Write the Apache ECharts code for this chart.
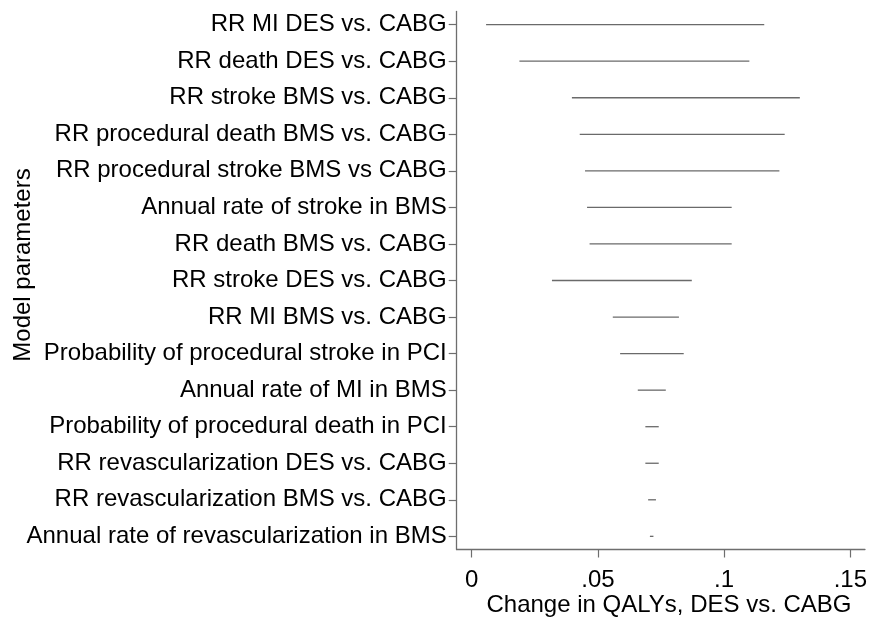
<!DOCTYPE html>
<html>
<head>
<meta charset="utf-8">
<script src="https://cdn.jsdelivr.net/npm/echarts@6/dist/echarts.min.js"></script>
<style>
html,body{margin:0;padding:0;background:#fff;}
#chart{width:870px;height:620px;}
</style>
</head>
<body>
<div id="chart"></div>
<script>
const categories = [
  "RR MI DES vs. CABG",
  "RR death DES vs. CABG",
  "RR stroke BMS vs. CABG",
  "RR procedural death BMS vs. CABG",
  "RR procedural stroke BMS vs CABG",
  "Annual rate of stroke in BMS",
  "RR death BMS vs. CABG",
  "RR stroke DES vs. CABG",
  "RR MI BMS vs. CABG",
  "Probability of procedural stroke in PCI",
  "Annual rate of MI in BMS",
  "Probability of procedural death in PCI",
  "RR revascularization DES vs. CABG",
  "RR revascularization BMS vs. CABG",
  "Annual rate of revascularization in BMS"
];
const lowValues  = [0.0057, 0.0189, 0.0397, 0.0428, 0.0449, 0.0457, 0.0467, 0.0318, 0.0559, 0.0588, 0.0658, 0.0688, 0.0688, 0.0699, 0.0706];
const highValues = [0.1159, 0.1100, 0.1300, 0.1240, 0.1219, 0.1030, 0.1030, 0.0872, 0.0821, 0.0840, 0.0769, 0.0741, 0.0741, 0.0730, 0.0720];
const xTickValues = [0, 0.05, 0.1, 0.15];
const xTickLabels = ["0", ".05", ".1", ".15"];
const xTitle = "Change in QALYs, DES vs. CABG";
const yTitle = "Model parameters";

const FONT = '"Liberation Sans", Arial, sans-serif';
const AXIS_COLOR = '#6e6e6e';
const catIdx = categories.map((c, i) => i);
const seriesData = categories.map((c, i) => [i, lowValues[i], highValues[i]]);

const chart = echarts.init(document.getElementById('chart'));
chart.setOption({
  animation: false,
  backgroundColor: '#fff',
  grid: { left: 456.7, right: 5, top: 11.5, bottom: 70.5, containLabel: false },
  xAxis: {
    type: 'value',
    min: -0.00594,
    max: 0.1558,
    axisLine: { show: true, onZero: false, lineStyle: { color: AXIS_COLOR, width: 1.3 } },
    axisTick: { show: true, length: 8, customValues: xTickValues, lineStyle: { color: AXIS_COLOR, width: 1.2 } },
    axisLabel: {
      customValues: xTickValues,
      margin: 19,
      color: '#000',
      fontFamily: FONT,
      fontSize: 24,
      formatter: function (v) {
        const k = xTickValues.findIndex(t => Math.abs(t - v) < 1e-9);
        return k >= 0 ? xTickLabels[k] : '';
      }
    },
    splitLine: { show: false }
  },
  yAxis: {
    type: 'value',
    inverse: true,
    min: -0.36,
    max: 14.36,
    axisLine: { show: true, onZero: false, lineStyle: { color: AXIS_COLOR, width: 1.3 } },
    axisTick: { show: true, length: 8, customValues: catIdx, lineStyle: { color: AXIS_COLOR, width: 1.2 } },
    axisLabel: {
      customValues: catIdx,
      margin: 10,
      color: '#000',
      fontFamily: FONT,
      fontSize: 24,
      formatter: function (v) { return categories[Math.round(v)] || ''; }
    },
    splitLine: { show: false }
  },
  graphic: [
    {
      type: 'text',
      x: 23.5, y: 265,
      rotation: Math.PI / 2,
      style: { text: yTitle, font: '24px ' + FONT, fill: '#000', align: 'center', verticalAlign: 'middle', textAlign: 'center', textVerticalAlign: 'middle' }
    },
    {
      type: 'text',
      x: 669, y: 605,
      style: { text: xTitle, font: '24px ' + FONT, fill: '#000', align: 'center', verticalAlign: 'middle', textAlign: 'center', textVerticalAlign: 'middle' }
    }
  ],
  series: [{
    type: 'custom',
    encode: { x: [1, 2], y: 0 },
    data: seriesData,
    renderItem: function (params, api) {
      const yv = api.value(0);
      const p1 = api.coord([api.value(1), yv]);
      const p2 = api.coord([api.value(2), yv]);
      return {
        type: 'line',
        shape: { x1: p1[0], y1: p1[1], x2: p2[0], y2: p2[1] },
        style: { stroke: '#6a6a6a', lineWidth: 1.3 }
      };
    }
  }]
});
</script>
</body>
</html>
